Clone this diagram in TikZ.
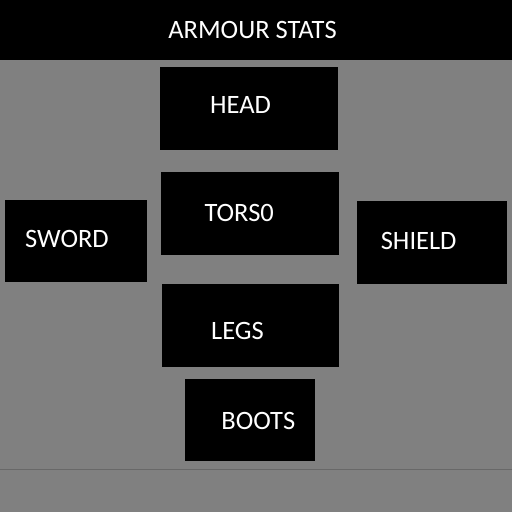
\documentclass[tikz,border=0pt]{standalone}
\usepackage{fontspec}
\setmainfont{Carlito}
\usepackage{xcolor}
\definecolor{bggray}{HTML}{808080}
\definecolor{rulegray}{HTML}{686868}
\tikzset{
  slotbox/.style={fill=black, inner sep=0pt, outer sep=0pt},
  slottext/.style={text=white, font=\fontsize{26.5}{26.5}\selectfont, inner sep=0pt},
}
\newcommand{\slot}[5]{%
  \node[slotbox, minimum width=#4-#2, minimum height=#5-#3, anchor=north west] (#1) at (#2,#3) {};%
}

\begin{document}
\begin{tikzpicture}[x=1pt, y=-1pt]
  \fill[bggray] (0,0) rectangle (512,512);
  \useasboundingbox (0,0) rectangle (512,512);
  \node[fill=black, minimum width=512pt, minimum height=60pt, inner sep=0pt, anchor=north west] (bar) at (0,0) {};
  \node[text=white, font=\fontsize{26.5}{26.5}\selectfont, inner sep=0pt] (title) at (252.5,29.5) {ARMOUR STATS};
  \slot{head}{160}{67}{338}{150}
  \slot{torso}{161}{172}{339}{255}
  \slot{sword}{5}{200}{147}{282}
  \slot{shield}{357}{201}{507}{284}
  \slot{legs}{162}{284}{339}{367}
  \slot{boots}{185}{379}{315}{461}
  \node[slottext] (headtxt) at (240.5,105) {HEAD};
  \node[slottext] (torsotxt) at (239.2,212.5) {TORS0};
  \node[slottext] (swordtxt) at (67,239) {SWORD};
  \node[slottext] (shieldtxt) at (418.7,241) {SHIELD};
  \node[slottext] (legstxt) at (237.5,331) {LEGS};
  \node[slottext] (bootstxt) at (258.3,421) {BOOTS};
  \draw[rulegray, line width=1pt] (0,469.5) -- (512,469.5);
\end{tikzpicture}
\end{document}
